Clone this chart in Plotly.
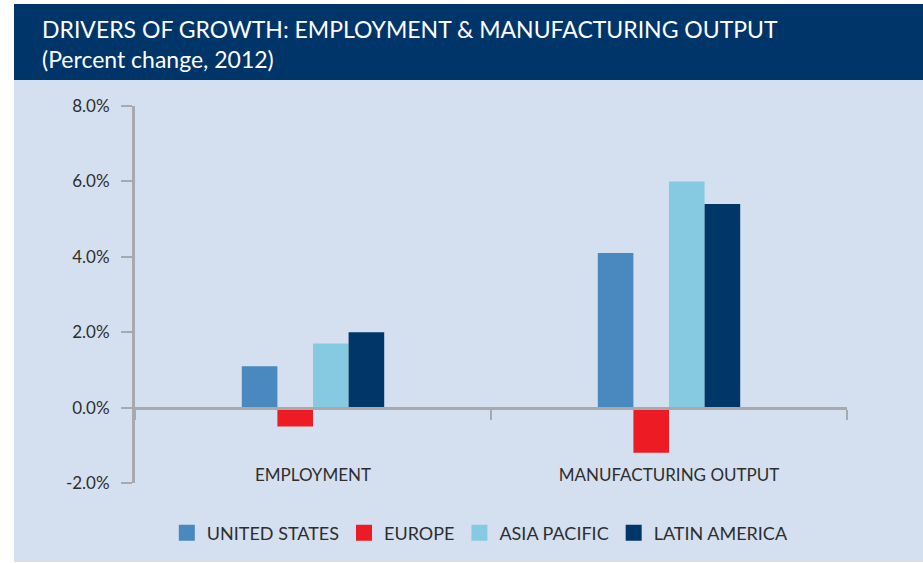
import plotly.graph_objects as go

categories = ["EMPLOYMENT", "MANUFACTURING OUTPUT"]
series_names = ["UNITED STATES", "EUROPE", "ASIA PACIFIC", "LATIN AMERICA"]
united_states = [1.1, 4.1]
europe = [-0.5, -1.2]
asia_pacific = [1.7, 6.0]
latin_america = [2.0, 5.4]
series_values = [united_states, europe, asia_pacific, latin_america]
colors = ["#4a89bf", "#ed1c24", "#86cae1", "#003769"]
y_ticks = [-2, 0, 2, 4, 6, 8]
y_tick_labels = ["-2.0%", "0.0%", "2.0%", "4.0%", "6.0%", "8.0%"]
title_line1 = "DRIVERS OF GROWTH: EMPLOYMENT & MANUFACTURING OUTPUT"
title_line2 = "(Percent change, 2012)"

FW, FH = 923, 563
L, R, T, B = 135, 76, 106, 80
PW, PH = FW - L - R, FH - T - B
FONT = "Lato"
GRAY = "#a7a9ac"
TEXT = "#2e2e2e"
BG = "#d4e0f0"
NAVY = "#00356a"


def X(px):
    return (px - L) / PW


def Y(py):
    return (FH - B - py) / PH


fig = go.Figure()
for name, vals, col in zip(series_names, series_values, colors):
    fig.add_trace(go.Bar(name=name, x=categories, y=vals, showlegend=False,
                         marker=dict(color=col, line=dict(width=0))))
# legend entries (square swatches)
for name, col in zip(series_names, colors):
    fig.add_trace(go.Scatter(name=name, x=[None], y=[None], mode="markers", showlegend=True,
                             marker=dict(symbol="square", size=16, color=col, line=dict(width=0))))

ymin, ymax = y_ticks[0], y_ticks[-1]

fig.update_layout(
    width=FW, height=FH,
    margin=dict(l=L, r=R, t=T, b=B, pad=0),
    paper_bgcolor="white",
    plot_bgcolor="rgba(0,0,0,0)",
    barmode="group", bargap=0.6, bargroupgap=0,
    font=dict(family=FONT, color=TEXT),
    showlegend=True,
    legend=dict(orientation="h", x=0.485, xanchor="center", y=Y(533), yanchor="middle",
                itemsizing="trace",
                font=dict(size=18, color=TEXT), bgcolor="rgba(0,0,0,0)", traceorder="normal"),
    shapes=[
        dict(type="rect", xref="paper", yref="paper", x0=X(14), x1=X(923), y0=Y(562), y1=Y(80),
             fillcolor=BG, line=dict(width=0), layer="below"),
        dict(type="rect", xref="paper", yref="paper", x0=X(14), x1=X(923), y0=Y(80), y1=Y(4),
             fillcolor=NAVY, line=dict(width=0), layer="below"),
    ],
    annotations=[
        dict(text=title_line1, xref="paper", yref="paper", x=X(40), y=Y(29), xanchor="left",
             yanchor="middle", showarrow=False, font=dict(size=23, color="white", family=FONT)),
        dict(text=title_line2, xref="paper", yref="paper", x=X(40), y=Y(59), xanchor="left",
             yanchor="middle", showarrow=False, font=dict(size=23, color="white", family=FONT)),
    ],
)

fig.update_xaxes(
    range=[-0.5, len(categories) - 0.5],
    anchor="free", position=(0 - ymin) / (ymax - ymin),
    showline=True, linecolor=GRAY, linewidth=3,
    ticks="outside", tickson="boundaries", ticklen=10, tickwidth=2, tickcolor=GRAY,
    showgrid=False, zeroline=False,
    ticklabelstandoff=51,
    tickfont=dict(size=17, color=TEXT),
)
fig.update_yaxes(
    range=[ymin, ymax], tickvals=y_ticks, ticktext=y_tick_labels,
    showline=True, linecolor=GRAY, linewidth=3,
    ticks="outside", ticklen=11, tickwidth=2, tickcolor=GRAY,
    showgrid=False, zeroline=False,
    ticklabelstandoff=8,
    tickfont=dict(size=17, color=TEXT),
)

fig.write_html("out.html")
